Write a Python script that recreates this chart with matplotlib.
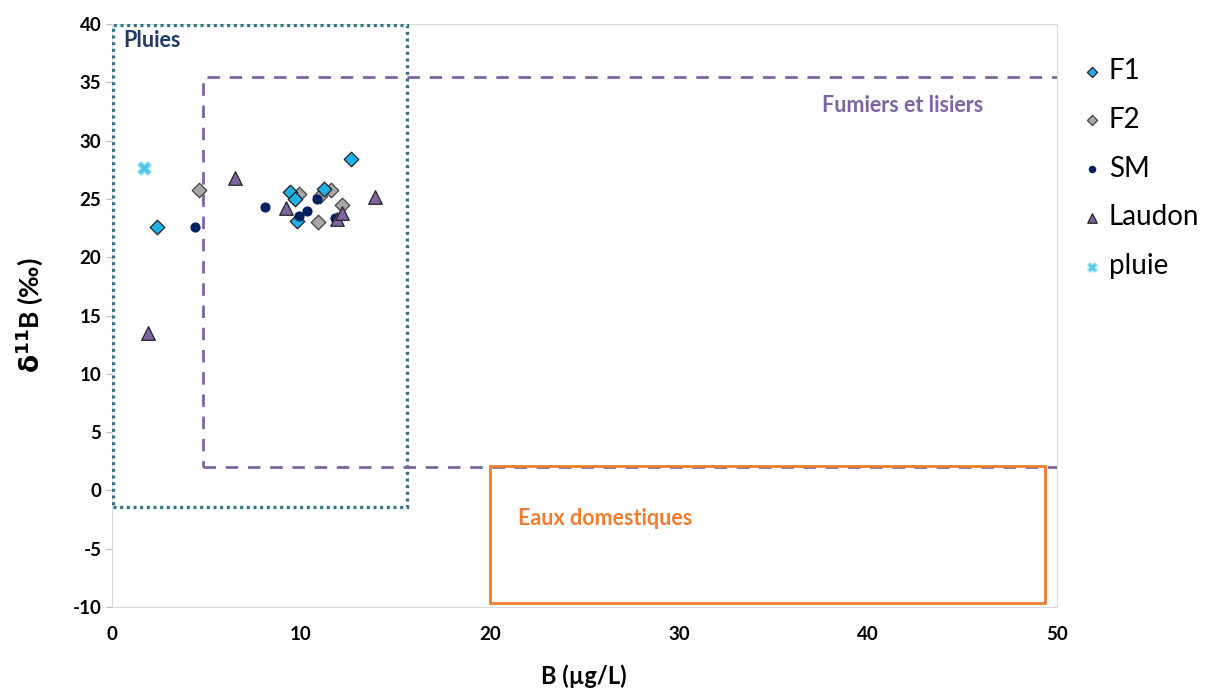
import matplotlib
matplotlib.use('Agg')
import matplotlib.pyplot as plt
from matplotlib.patches import Rectangle

plt.rcParams['font.family'] = ['Lato', 'DejaVu Sans']
plt.rcParams['axes.unicode_minus'] = False

# data (B in ug/L, d11B in permil)
f1_x = [2.4, 9.4, 9.7, 9.8, 11.2, 12.65]
f1_y = [22.6, 25.6, 25.0, 23.1, 25.9, 28.4]
f2_x = [4.6, 9.9, 10.9, 11.0, 11.6, 12.2]
f2_y = [25.8, 25.4, 23.0, 25.3, 25.8, 24.5]
sm_x = [4.4, 8.1, 9.9, 10.3, 10.85, 11.8]
sm_y = [22.6, 24.3, 23.5, 24.0, 25.0, 23.4]
laudon_x = [1.9, 6.5, 9.2, 11.9, 12.2, 13.9]
laudon_y = [13.5, 26.8, 24.2, 23.3, 23.8, 25.2]
pluie_x = [1.7]
pluie_y = [27.7]

# source domains: (x0, x1, y0, y1)
pluies_box = (0.05, 15.6, -1.4, 39.9)
fumiers_box = (4.8, 52, 2.0, 35.5)
eaux_box = (20.0, 49.4, -9.7, 2.1)

fig = plt.figure(figsize=(12.16, 6.92), dpi=100)
ax = fig.add_axes([0.092, 0.123, 0.777, 0.842])

ax.set_xlim(0, 50)
ax.set_ylim(-10, 40)

def box(b, **kw):
	x0, x1, y0, y1 = b
	ax.add_patch(Rectangle((x0, y0), x1 - x0, y1 - y0, fill=False, **kw))

box(pluies_box, edgecolor='#2E7487', lw=2.4, linestyle=(0, (0.9, 1.1)), zorder=3)
box(fumiers_box, edgecolor='#8064A2', lw=2, linestyle=(0, (4.5, 3.5)), zorder=3)
box(eaux_box, edgecolor='#ED7D31', lw=2, zorder=3)

ax.text(0.6, 38.6, 'Pluies', color='#1F3864', fontsize=15.5, fontweight='bold', va='center')
ax.text(37.6, 33.0, 'Fumiers et lisiers', color='#8064A2', fontsize=15.5, fontweight='bold', va='center')
ax.text(21.5, -2.4, 'Eaux domestiques', color='#ED7D31', fontsize=15.5, fontweight='bold', va='center')

ax.scatter(f1_x, f1_y, marker='D', s=55, c='#1EB1E6', edgecolors='#222222', linewidths=0.9, label='F1', zorder=5)
ax.scatter(f2_x, f2_y, marker='D', s=55, c='#A6A6A6', edgecolors='#444444', linewidths=0.9, label='F2', zorder=4)
ax.scatter(sm_x, sm_y, marker='o', s=40, c='#002060', edgecolors='#002060', label='SM', zorder=5)
ax.scatter(laudon_x, laudon_y, marker='^', s=95, c='#8064A2', edgecolors='#222222', linewidths=0.9, label='Laudon', zorder=6)
ax.scatter(pluie_x, pluie_y, marker='X', s=90, c='#4BC8E8', edgecolors='#8FDDF2', linewidths=1, label='pluie', zorder=5)

ax.set_xticks(range(0, 51, 10))
ax.set_yticks(range(-10, 41, 5))
ax.tick_params(axis='both', labelsize=13.5, colors='#BFBFBF', labelcolor='black', length=4)
ax.tick_params(axis='x', length=0, pad=14)
for lab in ax.get_xticklabels() + ax.get_yticklabels():
	lab.set_fontweight('bold')

for s in ax.spines.values():
	s.set_color('#D9D9D9')

ax.set_xlabel('B (µg/L)', fontsize=17, fontweight='bold', labelpad=15)
ax.set_ylabel(r'$\mathbf{\delta^{11}}$B (‰)', fontsize=19, fontweight='bold', labelpad=20)

leg = ax.legend(loc='upper left', bbox_to_anchor=(0.995, 0.985), frameon=False, fontsize=20,
	handletextpad=0.05, labelspacing=0.82, markerscale=0.7, handlelength=1.1)

fig.savefig('out.png', dpi=100)
